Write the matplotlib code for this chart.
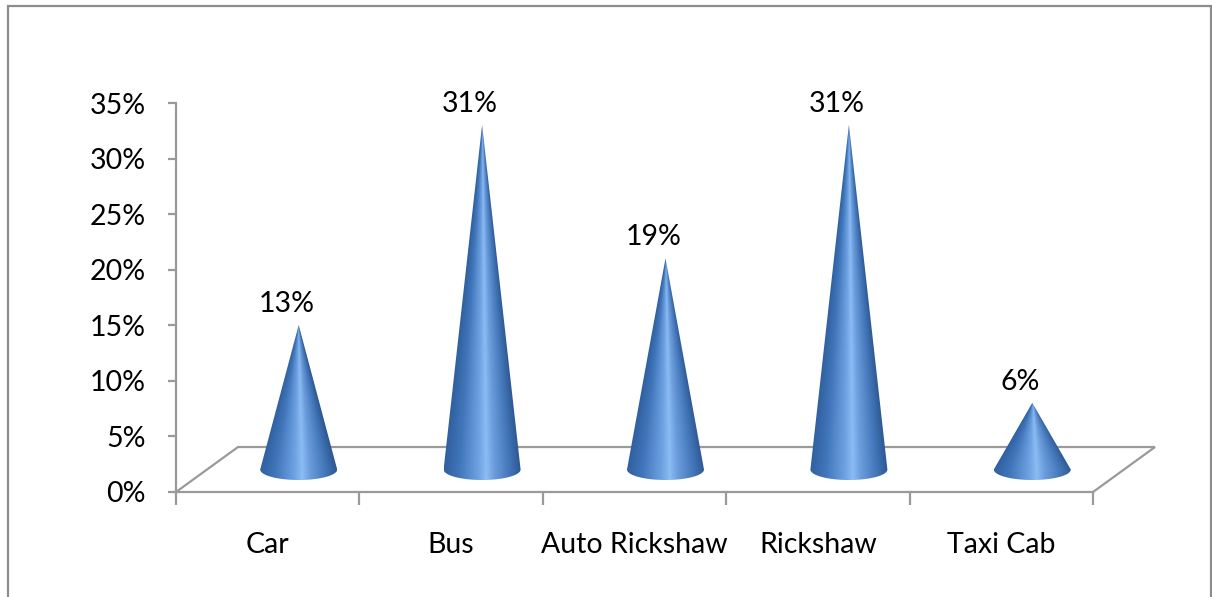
import numpy as np
import matplotlib
matplotlib.use('Agg')
import matplotlib.pyplot as plt
from matplotlib.colors import LinearSegmentedColormap
from matplotlib.path import Path
from matplotlib.patches import PathPatch, Rectangle

categories = ['Car', 'Bus', 'Auto Rickshaw', 'Rickshaw', 'Taxi Cab']
shares = [13, 31, 19, 31, 6]
labels = ['13%', '31%', '19%', '31%', '6%']
y_ticks = [0, 5, 10, 15, 20, 25, 30, 35]

W, H = 1212, 597
plt.rcParams['font.family'] = ['Lato', 'DejaVu Sans']

fig = plt.figure(figsize=(W / 100, H / 100), dpi=100)
fig.patch.set_facecolor('white')

# outer chart border (bottom edge falls outside the picture)
fig.patches.append(Rectangle((8 / W, -0.2), (1211 - 8) / W, 1.2 - 6 / H,
                             transform=fig.transFigure, fill=False,
                             edgecolor='#8c8c8c', lw=1.6))

ax = fig.add_axes([176 / W, 105 / H, (1093 - 176) / W, (492 - 103) / H])
ax.set_facecolor('none')

n = len(categories)
# depth of the 3D floor in data units
dx = 62 / 183.4
dy = 45 / 11.12
grey = '#9a9a9a'

# floor outline
ax.plot([0, dx, n + dx, n], [0, dy, dy, 0], color=grey, lw=1.6,
        clip_on=False, zorder=1, solid_joinstyle='miter')

cmap = LinearSegmentedColormap.from_list('cone', [
    (0.00, '#30609f'), (0.20, '#4176bb'), (0.45, '#6ea2e2'),
    (0.55, '#8cbcf4'), (0.65, '#6c9edd'), (0.85, '#4477b9'),
    (1.00, '#2d5893')])

r = 38.5 / 183.4      # base half width
ry = 10.5 / 11.12     # base ellipse half height
yb = dy / 2

for i, v in enumerate(shares):
    cx = i + 0.5 + dx / 2
    ya = yb + v
    t = np.linspace(np.pi, 2 * np.pi, 60)
    verts = [(cx, ya)] + list(zip(cx + r * np.cos(t), yb + ry * np.sin(t))) + [(cx, ya)]
    codes = [Path.MOVETO] + [Path.LINETO] * (len(verts) - 2) + [Path.CLOSEPOLY]
    patch = PathPatch(Path(verts, codes), facecolor='none', edgecolor='none')
    ax.add_patch(patch)

    xs = np.linspace(cx - r, cx + r, 200)
    ys = np.linspace(yb - ry, ya, 400)
    X, Y = np.meshgrid(xs, ys)
    frac = np.clip((ya - Y) / (ya - yb), 1e-3, 1)
    u = np.clip((X - cx) / (r * frac), -1, 1)
    img = cmap((u + 1) / 2)
    im = ax.imshow(img, extent=(cx - r, cx + r, yb - ry, ya), origin='lower',
                   aspect='auto', interpolation='bilinear', zorder=3)
    im.set_clip_path(patch)

    ax.annotate(labels[i], xy=(cx, ya), xytext=(-12, 8),
                textcoords='offset pixels', ha='center', va='bottom',
                fontsize=20.5, color='black', zorder=5)

ax.set_xlim(0, n)
ax.set_ylim(0, 35)

for s in ['top', 'right']:
    ax.spines[s].set_visible(False)
for s in ['left', 'bottom']:
    ax.spines[s].set_color(grey)
    ax.spines[s].set_linewidth(1.6)

ax.set_yticks(y_ticks)
ax.set_yticklabels([f'{t}%' for t in y_ticks])
ax.tick_params(axis='y', length=6, width=1.6, color=grey, pad=16,
               labelsize=20.5)

ax.set_xticks(range(n + 1))
ax.set_xticklabels([])
ax.tick_params(axis='x', which='major', length=9, width=1.6, color=grey)
ax.set_xticks(np.arange(n) + 0.5, minor=True)
ax.set_xticklabels(categories, minor=True)
ax.tick_params(axis='x', which='minor', length=0, pad=29, labelsize=20.5)

fig.savefig('out.png', dpi=100, facecolor='white')
